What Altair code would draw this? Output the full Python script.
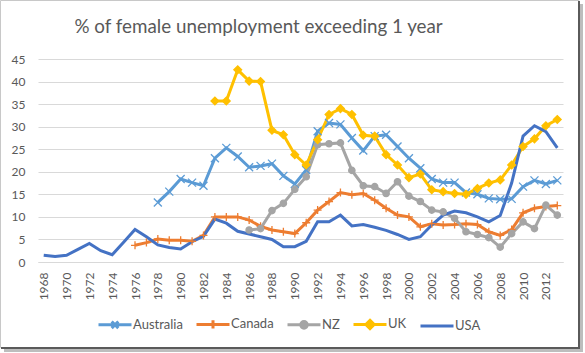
import altair as alt
import pandas as pd

# ---- data ----
years = list(range(1968, 2014))
label_years = list(range(1968, 2014, 2))

australia = [None] * 10 + [
    13.2, 15.6, 18.4, 17.6, 16.9, 23.0, 25.3, 23.4, 21.0, 21.3,
    21.8, 19.1, 17.3, 20.4, 29.0, 30.8, 30.5, 27.5, 24.7, 27.9,
    28.2, 25.6, 23.0, 20.8, 18.4, 17.6, 17.6, 15.4, 15.0, 14.1,
    13.9, 14.0, 16.7, 18.1, 17.3, 18.1]
canada = [None] * 8 + [
    3.7, 4.3, 5.1, 4.8, 4.8, 4.6, 5.9, 10.0, 10.0, 10.0,
    9.3, 7.9, 7.1, 6.7, 6.3, 8.7, 11.5, 13.4, 15.4, 14.9,
    15.2, 13.7, 11.9, 10.4, 10.0, 7.8, 8.5, 8.2, 8.3, 8.5,
    8.3, 6.7, 5.9, 7.2, 10.9, 11.9, 12.3, 12.5]
nz = [None] * 18 + [
    7.1, 7.4, 11.4, 13.0, 16.1, 18.9, 26.0, 26.2, 26.4, 20.3,
    16.9, 16.7, 15.2, 17.8, 14.6, 13.4, 11.5, 11.1, 9.7, 6.7,
    6.1, 5.4, 3.3, 6.3, 8.9, 7.4, 12.6, 10.4]
uk = [None] * 15 + [
    35.7, 35.7, 42.6, 40.1, 40.0, 29.2, 28.2, 23.8, 21.5, 27.1,
    32.7, 34.0, 32.7, 28.1, 27.9, 23.8, 21.5, 18.7, 19.5, 16.0,
    15.6, 15.2, 15.0, 16.3, 17.5, 18.2, 21.5, 25.6, 27.3, 30.2,
    31.6]
usa = [
    1.5, 1.2, 1.5, 2.8, 4.1, 2.5, 1.6, 4.4, 7.2, 5.6,
    3.8, 3.2, 2.9, 4.5, 5.7, 9.5, 8.6, 6.8, 6.2, 5.6,
    5.0, 3.4, 3.4, 4.6, 8.9, 8.9, 10.4, 8.0, 8.3, 7.7,
    7.0, 6.1, 5.0, 5.6, 8.2, 10.4, 11.3, 10.9, 10.0, 8.9,
    10.3, 17.5, 27.9, 30.2, 28.9, 25.3]

countries = ["Australia", "Canada", "NZ", "UK", "USA"]
colors = ["#5B9BD5", "#ED7D31", "#A5A5A5", "#FFC000", "#4472C4"]
series = [australia, canada, nz, uk, usa]

rows = []
for name, vals in zip(countries, series):
    for yr, v in zip(years, vals):
        if v is not None:
            rows.append({"year": yr, "country": name, "value": v})
df = pd.DataFrame(rows)

# marker glyph for each series on the lines (USA has none)
marker_shapes = {
    "Australia": ("M-1,-1L1,1M-1,1L1,-1", 64),
    "Canada": ("M-1,0L1,0M0,-1L0,1", 64),
    "NZ": ("circle", 40),
    "UK": ("diamond", 60),
}
# legend glyphs: line segment plus marker
legend_shapes = [
    "M-1,0L1,0M-0.2,-0.2L0.2,0.2M-0.2,0.2L0.2,-0.2",
    "M-1,0L1,0M0,-0.25L0,0.25",
    "M-1,0L1,0M-0.2,0A0.2,0.2,0,1,0,0.2,0A0.2,0.2,0,1,0,-0.2,0Z",
    "M-1,0L1,0M0,-0.25L0.25,0L0,0.25L-0.25,0Z",
    "M-1,0L1,0",
]

GRAY = "#595959"
FONT = "Lato"

color_scale = alt.Scale(domain=countries, range=colors)

x_enc = alt.X(
    "year:O",
    scale=alt.Scale(type="point", padding=0.5),
    axis=alt.Axis(
        values=label_years, labelAngle=-90, ticks=False, grid=False,
        domainColor="#d9d9d9", domainWidth=1, labelPadding=10, title=None,
        labelColor=GRAY, labelFontSize=12, labelFont=FONT,
    ),
)
y_enc = alt.Y(
    "value:Q",
    scale=alt.Scale(domain=[0, 45], nice=False),
    axis=alt.Axis(
        values=list(range(0, 50, 5)), title=None, domain=False, ticks=False,
        gridColor="#d9d9d9", gridWidth=1, labelPadding=13,
        labelColor=GRAY, labelFontSize=12, labelFont=FONT,
    ),
)

leg = alt.Legend(
    title=None, orient="none", legendX=59, legendY=247,
    direction="horizontal", symbolSize=1089, symbolStrokeWidth=3,
    labelFont=FONT, labelFontSize=13, labelColor=GRAY,
    columnPadding=7, labelOffset=0, symbolOpacity=1,
)
# legend-only layer (draws no marks), placed first so its legend settings win
legend_layer = alt.Chart(df).transform_filter("false").mark_point(
    filled=True, opacity=1
).encode(
    x=x_enc,
    y=y_enc,
    color=alt.Color("country:N", scale=color_scale, legend=leg),
    stroke=alt.Stroke("country:N", scale=color_scale, legend=leg),
    shape=alt.Shape("country:N",
                    scale=alt.Scale(domain=countries, range=legend_shapes),
                    legend=leg),
)

# outer picture frame (decoration only)
frame_df = pd.DataFrame({"k": [0]})
frame = alt.Chart(frame_df).mark_rect(
    fill="transparent", stroke="#c8c8c8", strokeWidth=1
).encode(
    x=alt.value(-37.5), x2=alt.value(541), y=alt.value(-58.5), y2=alt.value(288.5)
)
frame_right = alt.Chart(frame_df).mark_rule(color="#5a5a5a", strokeWidth=2).encode(
    x=alt.value(541), y=alt.value(-58), y2=alt.value(289.5)
)
frame_bottom = alt.Chart(frame_df).mark_rule(color="#5a5a5a", strokeWidth=2).encode(
    x=alt.value(-37), x2=alt.value(542), y=alt.value(289)
)
shadow_right = alt.Chart(frame_df).mark_rule(color="#bdbdbd", strokeWidth=3).encode(
    x=alt.value(543.5), y=alt.value(-55), y2=alt.value(293)
)
shadow_bottom = alt.Chart(frame_df).mark_rule(color="#bdbdbd", strokeWidth=3).encode(
    x=alt.value(-34), x2=alt.value(545), y=alt.value(291.5)
)

lines = alt.Chart(df).mark_line(strokeWidth=3).encode(
    x=x_enc,
    y=y_enc,
    color=alt.Color("country:N", scale=color_scale, legend=None),
)

layers = [legend_layer, lines]
for name, (shp, sz) in marker_shapes.items():
    layers.append(
        alt.Chart(df).transform_filter(alt.datum.country == name)
        .mark_point(filled=True, shape=shp, size=sz, strokeWidth=1.3, opacity=1)
        .encode(
            x=x_enc,
            y=y_enc,
            color=alt.Color("country:N", scale=color_scale, legend=None),
            stroke=alt.Stroke("country:N", scale=color_scale, legend=None),
        )
    )
layers += [shadow_right, shadow_bottom, frame, frame_right, frame_bottom]

chart = alt.layer(*layers).properties(
    width=525,
    height=203,
    title=alt.TitleParams(
        "% of female unemployment exceeding 1 year",
        anchor="start", dx=74.5, dy=21, offset=-30.5, baseline="alphabetic",
        font=FONT, fontSize=18.8, fontWeight="normal", color=GRAY,
    ),
    autosize=alt.AutoSizeParams(type="none"),
    padding={"left": 38, "top": 59, "right": 22, "bottom": 91},
    background="white",
).configure_view(stroke=None)

chart.save("out.html", embed_options={"renderer": "svg", "actions": False})
